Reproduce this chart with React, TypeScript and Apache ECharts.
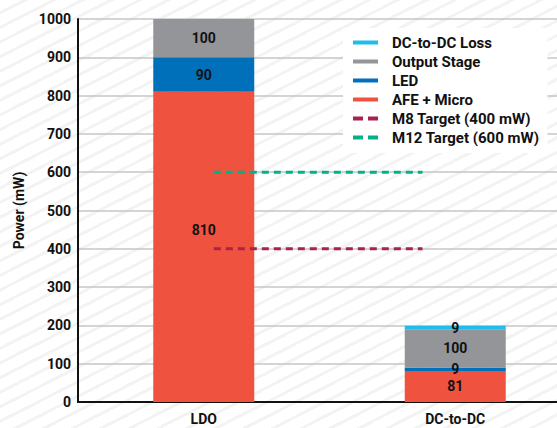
import React, { useEffect, useRef } from "react";
import * as echarts from "echarts";

const categories = ["LDO", "DC-to-DC"];
const afeMicro = [810, 81];
const led = [90, 9];
const outputStage = [100, 100];
const dcLoss = [0, 9];
const m8Target = 400;
const m12Target = 600;
const targetSpan = [0.54, 1.37];

const FONT = "Roboto, 'Noto Sans', sans-serif";

export default function App() {
  const ref = useRef<HTMLDivElement>(null);
  useEffect(() => {
    if (!ref.current) return;
    const chart = echarts.init(ref.current, undefined, { renderer: "svg" });
    const lbl = {
      show: true,
      position: "inside",
      color: "#111",
      fontWeight: "bold",
      fontSize: 14,
      fontFamily: FONT,
      formatter: (p: any) => (p.value ? String(p.value) : ""),
    };
    const dash = "path://M0,0h10v4h-10z M15,0h10v4h-10z";
    chart.setOption({
      animation: false,
      backgroundColor: "transparent",
      textStyle: { fontFamily: FONT },
      grid: {
        left: 78,
        top: 19,
        bottom: 26,
        right: -24,
        containLabel: false,
        outerBoundsMode: "none",
      },
      legend: {
        orient: "vertical",
        left: 343,
        top: 28,
        padding: [7, 8, 8, 10],
        backgroundColor: "#fff",
        itemWidth: 25,
        itemHeight: 4,
        itemGap: 4,
        textStyle: {
          fontSize: 15,
          lineHeight: 15,
          fontWeight: "bold",
          color: "#111",
          fontFamily: FONT,
          padding: [0, 0, 0, 9],
        },
        data: [
          { name: "DC-to-DC Loss", icon: "rect" },
          { name: "Output Stage", icon: "rect" },
          { name: "LED", icon: "rect" },
          { name: "AFE + Micro", icon: "rect" },
          { name: "M8 Target (400 mW)", icon: dash },
          { name: "M12 Target (600 mW)", icon: dash },
        ],
      },
      xAxis: [
        {
          type: "category",
          data: categories,
          axisTick: { show: false },
          axisLine: { lineStyle: { color: "#111", width: 2 } },
          axisLabel: { color: "#111", fontWeight: "bold", fontSize: 14, margin: 10, fontFamily: FONT },
        },
        { type: "value", min: 0, max: 2, show: false },
      ],
      yAxis: {
        type: "value",
        min: 0,
        max: 1000,
        interval: 100,
        name: "Power (mW)",
        nameLocation: "middle",
        nameGap: 52,
        nameTextStyle: { color: "#111", fontWeight: "bold", fontSize: 14, fontFamily: FONT },
        axisLine: { show: true, lineStyle: { color: "#111", width: 2 } },
        axisTick: { show: false },
        axisLabel: {
          color: "#111",
          fontWeight: "bold",
          fontSize: 14,
          margin: 7,
          fontFamily: FONT,
          formatter: (v: number) => String(v),
        },
        splitLine: { lineStyle: { color: "#c6c6c6", width: 1.5 } },
      },
      series: [
        {
          name: "AFE + Micro",
          type: "bar",
          stack: "p",
          barWidth: 101,
          itemStyle: { color: "#ef533f" },
          label: lbl,
          data: afeMicro.map((v, i) => (i === 0 ? { value: v, label: { offset: [0, -17] } } : v)),
        },
        { name: "LED", type: "bar", stack: "p", barWidth: 101, itemStyle: { color: "#0070ba" }, label: lbl, data: led },
        { name: "Output Stage", type: "bar", stack: "p", barWidth: 101, itemStyle: { color: "#939598" }, label: lbl, data: outputStage },
        { name: "DC-to-DC Loss", type: "bar", stack: "p", barWidth: 101, itemStyle: { color: "#1dbdec" }, label: lbl, data: dcLoss },
        {
          name: "M8 Target (400 mW)",
          type: "line",
          xAxisIndex: 1,
          symbol: "none",
          itemStyle: { color: "#a8224a" },
          lineStyle: { color: "#a8224a", width: 3, type: [7, 5] },
          data: targetSpan.map((x) => [x, m8Target]),
          z: 5,
        },
        {
          name: "M12 Target (600 mW)",
          type: "line",
          xAxisIndex: 1,
          symbol: "none",
          itemStyle: { color: "#00b386" },
          lineStyle: { color: "#00b386", width: 3, type: [7, 5] },
          data: targetSpan.map((x) => [x, m12Target]),
          z: 5,
        },
      ],
    });
    return () => chart.dispose();
  }, []);
  return (
    <div
      ref={ref}
      style={{
        position: "fixed",
        left: 0,
        top: 0,
        width: 557,
        height: 428,
        background:
          "repeating-linear-gradient(153deg, #ffffff 0px, #ffffff 10px, #f3f3f3 10px, #f3f3f3 13px)",
      }}
    />
  );
}
